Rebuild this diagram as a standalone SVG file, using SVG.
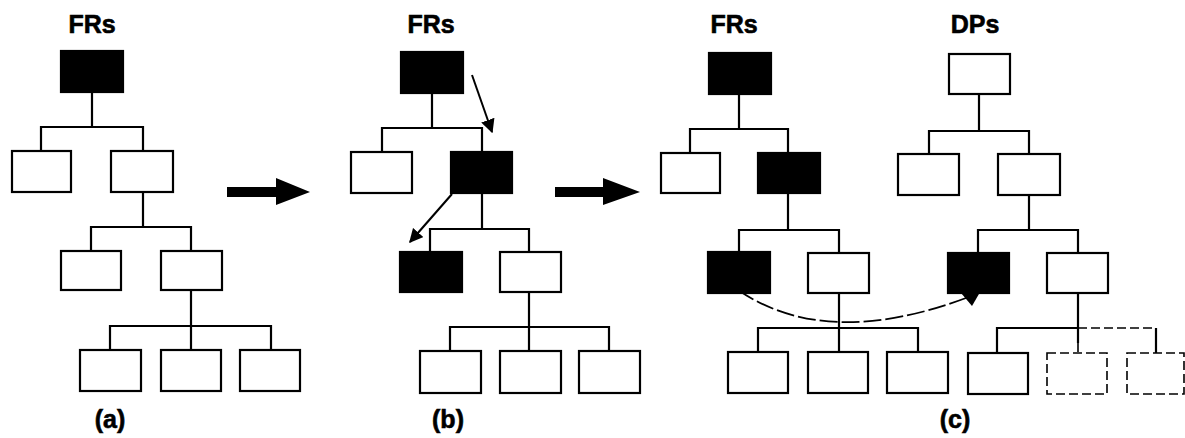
<svg xmlns="http://www.w3.org/2000/svg" width="1185" height="438" viewBox="0 0 1185 438">
<style>
.lbl{font-family:"Liberation Sans",Arial,sans-serif;font-weight:bold;font-size:25px;fill:#000;stroke:#000;stroke-width:0.6;text-anchor:middle}
.w{fill:#fff;stroke:#000;stroke-width:2.2}
.b{fill:#000;stroke:#000;stroke-width:2.2}
.d{fill:#fff;stroke:#000;stroke-width:1.6;stroke-dasharray:9,4}
.ln{fill:none;stroke:#000;stroke-width:2.2}
.dl{fill:none;stroke:#000;stroke-width:1.6;stroke-dasharray:9,4}
</style>
<defs>
<marker id="ah" viewBox="0 0 10 10" refX="9" refY="5" markerWidth="7" markerHeight="7" orient="auto" markerUnits="strokeWidth">
<path d="M0,0 L10,5 L0,10 z" fill="#000"/>
</marker>
</defs>
<rect width="1185" height="438" fill="#fff"/>

<g id="labels">
<text class="lbl" x="92" y="33">FRs</text>
<text class="lbl" x="431" y="33">FRs</text>
<text class="lbl" x="734" y="33">FRs</text>
<text class="lbl" x="975" y="33">DPs</text>
<text class="lbl" x="110" y="428">(a)</text>
<text class="lbl" x="448" y="428">(b)</text>
<text class="lbl" x="955" y="428">(c)</text>
</g>

<g id="connectors">
<!-- tree a -->
<path class="ln" d="M92,92 V127 M41,151 V127 H143 V151 M143,192 V227 M91,251 V227 H191 V251 M191,290 V326 M110,350 V326 H271 V350 M191,326 V350"/>
<!-- tree b -->
<path class="ln" d="M432,93 V128 M382,152 V128 H482 V152 M482,193 V229 M430,252 V229 H529 V252 M529,292 V327 M450,351 V327 H609 V351 M529,327 V351"/>
<!-- tree c FRs -->
<path class="ln" d="M739,94 V129 M690,153 V129 H788 V153 M788,193 V230 M739,252 V230 H839 V253 M839,293 V328 M758,352 V328 H918 V352 M839,328 V352"/>
<!-- tree c DPs -->
<path class="ln" d="M979,94 V131 M929,154 V131 H1029 V154 M1029,195 V230 M978,253 V230 H1078 V253 M1078,293 V328 M997,353 V328 H1078 M1078,328 V343 M1156,328 V353"/>
<path class="dl" d="M1078,328 H1156 M1078,343 V353"/>
<!-- big arrows -->
<path d="M227,187 H276 V178 L310,192 L276,205 V197 H227 Z" fill="#000"/>
<path d="M555,187 H603 V178 L640,192 L603,205 V197 H555 Z" fill="#000"/>
<!-- small arrows in b -->
<line x1="472" y1="75" x2="492" y2="132" stroke="#000" stroke-width="2" marker-end="url(#ah)"/>
<line x1="452" y1="194" x2="410" y2="242" stroke="#000" stroke-width="2" marker-end="url(#ah)"/>
<!-- dashed mapping curve -->
<path d="M738,290 Q826,350 966,298" fill="none" stroke="#000" stroke-width="1.8" stroke-dasharray="18,4"/>
<polygon points="961,293 983,287 972,306" fill="#000"/>
</g>

<g id="tree-a">
<rect id="a0" class="b" x="61" y="51" width="62" height="41"/>
<rect id="a1" class="w" x="12" y="151" width="59" height="41"/>
<rect id="a2" class="w" x="111" y="151" width="62" height="41"/>
<rect id="a3" class="w" x="61" y="251" width="60" height="39"/>
<rect id="a4" class="w" x="161" y="251" width="61" height="39"/>
<rect id="a5" class="w" x="80" y="350" width="61" height="41"/>
<rect id="a6" class="w" x="161" y="350" width="60" height="41"/>
<rect id="a7" class="w" x="240" y="350" width="60" height="41"/>
</g>

<g id="tree-b">
<rect id="b0" class="b" x="401" y="52" width="62" height="41"/>
<rect id="b1" class="w" x="351" y="152" width="61" height="41"/>
<rect id="b2" class="b" x="451" y="152" width="61" height="41"/>
<rect id="b3" class="b" x="400" y="252" width="62" height="40"/>
<rect id="b4" class="w" x="500" y="252" width="61" height="40"/>
<rect id="b5" class="w" x="420" y="351" width="61" height="42"/>
<rect id="b6" class="w" x="500" y="351" width="61" height="42"/>
<rect id="b7" class="w" x="579" y="351" width="61" height="42"/>
</g>

<g id="tree-c-frs">
<rect id="c0" class="b" x="709" y="53" width="62" height="41"/>
<rect id="c1" class="w" x="661" y="153" width="59" height="40"/>
<rect id="c2" class="b" x="758" y="153" width="62" height="40"/>
<rect id="c3" class="b" x="708" y="252" width="62" height="41"/>
<rect id="c4" class="w" x="808" y="253" width="61" height="40"/>
<rect id="c5" class="w" x="728" y="352" width="60" height="41"/>
<rect id="c6" class="w" x="808" y="352" width="60" height="41"/>
<rect id="c7" class="w" x="887" y="352" width="61" height="41"/>
</g>

<g id="tree-c-dps">
<rect id="d0" class="w" x="949" y="54" width="61" height="40"/>
<rect id="d1" class="w" x="898" y="154" width="61" height="41"/>
<rect id="d2" class="w" x="998" y="154" width="62" height="41"/>
<rect id="d3" class="b" x="948" y="253" width="61" height="40"/>
<rect id="d4" class="w" x="1047" y="253" width="61" height="40"/>
<rect id="d5" class="w" x="968" y="353" width="60" height="41"/>
<rect id="d6" class="d" x="1047" y="353" width="60" height="41"/>
<rect id="d7" class="d" x="1127" y="353" width="57" height="41"/>
</g>
</svg>
